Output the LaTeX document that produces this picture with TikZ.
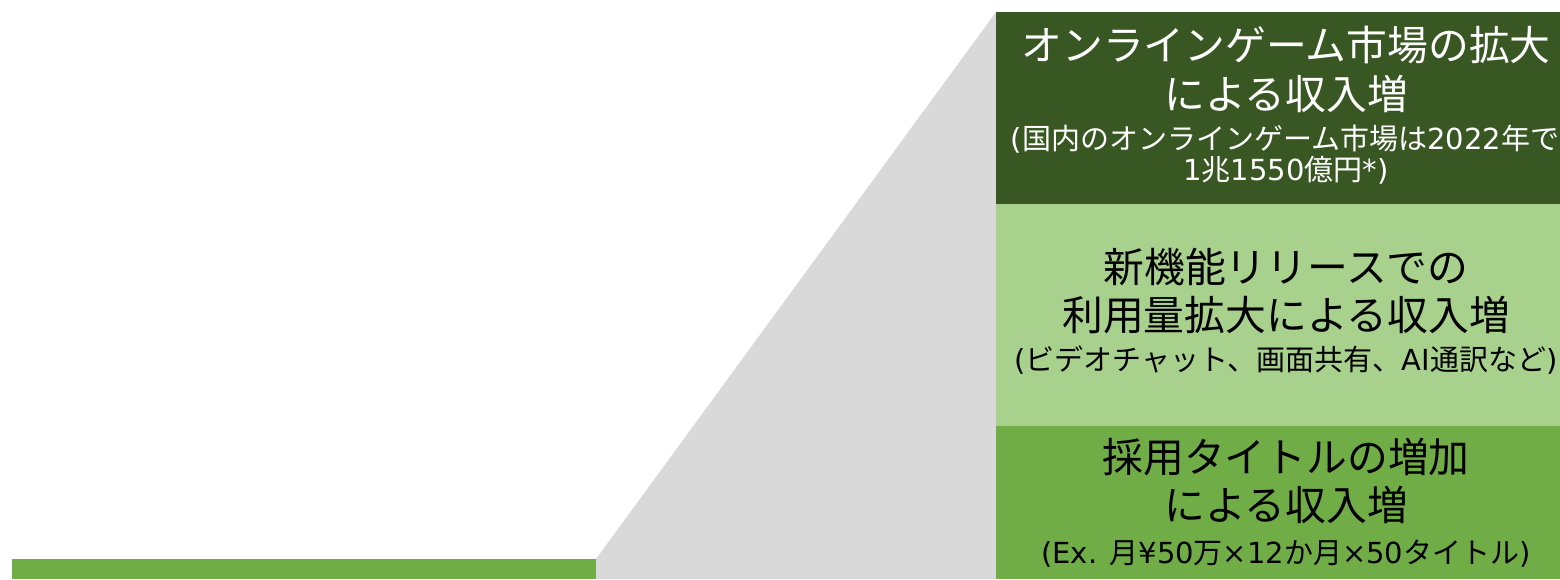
\documentclass[tikz,border=0pt]{standalone}
\usepackage{fontspec}
\setmainfont{Noto Sans CJK JP}
\newfontfamily\latn{DejaVu Sans}
\definecolor{darkgreen}{HTML}{385723}
\definecolor{lightgreen}{HTML}{A9D18E}
\definecolor{midgreen}{HTML}{70AD47}
\definecolor{funnelgray}{HTML}{D9D9D9}
\tikzset{
  mainline/.style={anchor=base, inner sep=0pt, font=\fontsize{40.8}{48}\selectfont},
  subline/.style={anchor=base, inner sep=0pt, font=\fontsize{29}{34}\selectfont},
  panel/.style={draw=none, inner sep=0pt, minimum width=564pt, anchor=north west},
}
\begin{document}
\begin{tikzpicture}[x=1pt,y=-1pt]
\useasboundingbox (0,0) rectangle (1560,579);
\clip (0,0) rectangle (1560,579);
% funnel
\fill[funnelgray] (596,559) -- (996,12) -- (996,579) -- (596,579) -- cycle;
% left bar
\fill[midgreen] (12,559) rectangle (596,579);
% boxes
\node[panel, fill=darkgreen, minimum height=192pt] (b1) at (996,12) {};
\node[panel, fill=lightgreen, minimum height=222pt] (b2) at (996,204) {};
\node[panel, fill=midgreen, minimum height=153pt] (b3) at (996,426) {};
% texts box 1
\begin{scope}[text=white]
\node[mainline] (t1a) at (1286,60) {オンラインゲーム市場の拡大};
\node[mainline] (t1b) at (1286,109) {による収入増};
\node[subline] (t1c) at (1285,149) {{\latn(}国内のオンラインゲーム市場は{\latn 2022}年で};
\node[subline] (t1d) at (1286,180) {{\latn 1}兆{\latn 1550}億円{\latn*)}};
\end{scope}
% texts box 2
\node[mainline] (t2a) at (1286,282) {新機能リリースでの};
\node[mainline] (t2b) at (1286,330) {利用量拡大による収入増};
\node[subline] (t2c) at (1286,370) {{\latn(}ビデオチャット、画面共有、{\latn AI}通訳など{\latn)}};
% texts box 3
\node[mainline] (t3a) at (1286,472) {採用タイトルの増加};
\node[mainline] (t3b) at (1286,520) {による収入増};
\node[subline] (t3c) at (1286,563) {{\latn(Ex. }月{\latn¥50}万{\latn×12}か月{\latn×50}タイトル{\latn)}};
\end{tikzpicture}
\end{document}
